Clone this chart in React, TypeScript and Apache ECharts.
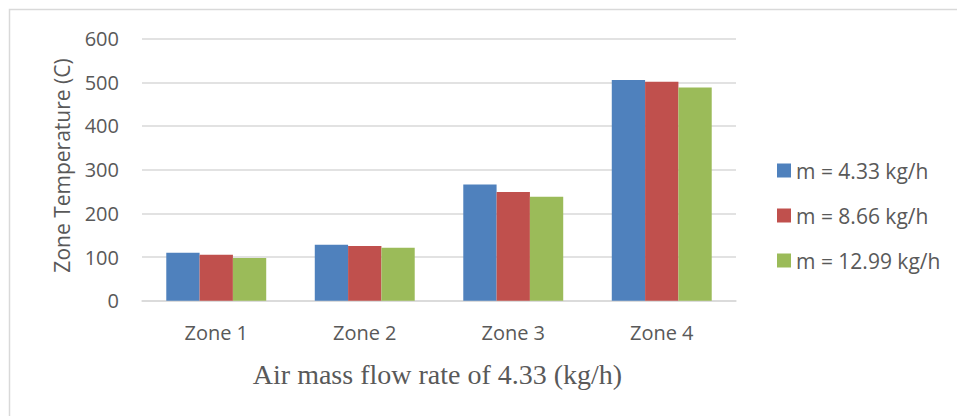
import React, { useEffect, useRef } from "react";
import * as echarts from "echarts";

const categories = ["Zone 1", "Zone 2", "Zone 3", "Zone 4"];
const seriesNames = ["m = 4.33 kg/h", "m = 8.66 kg/h", "m = 12.99 kg/h"];
const flow433 = [110, 128, 266, 505];
const flow866 = [105, 125, 249, 501];
const flow1299 = [98, 121, 238, 488];
const colors = ["#4F81BD", "#C0504D", "#9BBB59"];
const yAxisTitle = "Zone Temperature (C)";
const xAxisTitle = "Air mass flow rate of 4.33 (kg/h)";

export default function App() {
  const ref = useRef<HTMLDivElement>(null);
  useEffect(() => {
    if (!ref.current) return;
    const chart = echarts.init(ref.current, undefined, { renderer: "svg" });
    const sans = "'Open Sans', 'Noto Sans', sans-serif";
    const values = [flow433, flow866, flow1299];
    chart.setOption({
      animation: false,
      backgroundColor: "#ffffff",
      grid: { left: 142, right: 221, top: 38.6, bottom: 115.3, containLabel: false },
      legend: {
        orient: "vertical",
        left: 777,
        top: 160,
        padding: 0,
        itemWidth: 14,
        itemHeight: 14,
        itemGap: 24,
        icon: "rect",
        data: seriesNames,
        textStyle: { color: "#595959", fontSize: 21, fontFamily: sans, lineHeight: 20 },
      },
      xAxis: {
        type: "category",
        data: categories,
        axisLine: { lineStyle: { color: "#D9D9D9", width: 1.5 } },
        axisTick: { show: false },
        axisLabel: { color: "#595959", fontSize: 20, fontFamily: sans, margin: 22 },
      },
      yAxis: {
        type: "value",
        min: 0,
        max: 600,
        interval: 100,
        axisLine: { show: false },
        axisTick: { show: false },
        axisLabel: { color: "#595959", fontSize: 20, fontFamily: sans, margin: 23 },
        splitLine: { lineStyle: { color: "#D9D9D9", width: 1.5 } },
      },
      series: seriesNames.map((name, i) => ({
        name,
        type: "bar",
        data: values[i],
        barGap: "0%",
        barCategoryGap: "32.7%",
        itemStyle: { color: colors[i] },
      })),
      graphic: [
        {
          type: "rect",
          shape: { x: 9.5, y: 9.5, width: 1000, height: 500 },
          style: { fill: "none", stroke: "#D9D9D9", lineWidth: 1.5 },
          silent: true,
        },
        {
          type: "text",
          x: 61.5,
          y: 165.5,
          rotation: Math.PI / 2,
          style: {
            text: yAxisTitle,
            fill: "#595959",
            fontSize: 21,
            fontFamily: sans,
            textAlign: "center",
            textVerticalAlign: "middle",
          },
        },
        {
          type: "text",
          x: 437.5,
          y: 374,
          style: {
            text: xAxisTitle,
            fill: "#595959",
            fontSize: 28,
            fontFamily: "'Liberation Serif', 'Times New Roman', serif",
            textAlign: "center",
            textVerticalAlign: "middle",
          },
        },
      ],
    });
    return () => chart.dispose();
  }, []);
  return (
    <div
      ref={ref}
      style={{ position: "absolute", left: 0, top: 0, width: 957, height: 416 }}
    />
  );
}
